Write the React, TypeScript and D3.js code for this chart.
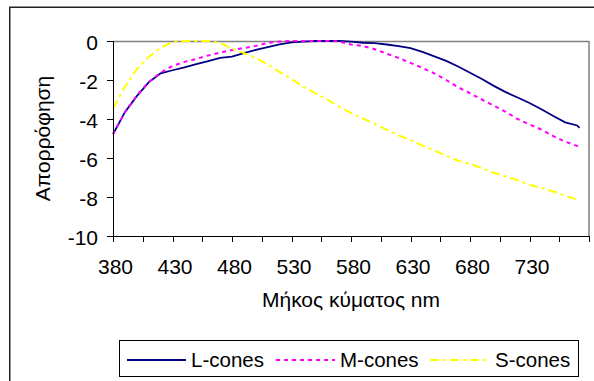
import React from "react";
import * as d3 from "d3";

const wavelengths = [380, 390, 400, 410, 420, 430, 440, 450, 460, 470, 480, 490, 500, 510, 520, 530, 540, 550, 560, 570, 580, 590, 600, 610, 620, 630, 640, 650, 660, 670, 680, 690, 700, 710, 720, 730, 740, 750, 760, 770, 772];

const lCones = [-4.78, -3.65, -2.83, -2.12, -1.66, -1.5, -1.35, -1.18, -1.03, -0.87, -0.8, -0.62, -0.45, -0.31, -0.17, -0.07, -0.03, 0, 0, 0, -0.03, -0.09, -0.11, -0.18, -0.26, -0.36, -0.56, -0.79, -1.02, -1.31, -1.63, -1.95, -2.3, -2.62, -2.9, -3.18, -3.5, -3.85, -4.17, -4.33, -4.45];

const mCones = [-4.78, -3.65, -2.8, -2.1, -1.62, -1.28, -1.07, -0.92, -0.74, -0.6, -0.46, -0.36, -0.25, -0.1, -0.03, 0, 0, 0, 0, -0.02, -0.18, -0.26, -0.42, -0.65, -0.87, -1.12, -1.38, -1.66, -2.0, -2.37, -2.68, -3.0, -3.32, -3.63, -4.0, -4.28, -4.54, -4.88, -5.16, -5.38, -5.43];

const sCones = [-3.45, -2.35, -1.45, -0.82, -0.35, -0.04, 0, 0, 0, -0.1, -0.4, -0.62, -0.88, -1.2, -1.6, -1.95, -2.35, -2.68, -3.0, -3.37, -3.69, -3.97, -4.25, -4.55, -4.84, -5.08, -5.36, -5.62, -5.87, -6.15, -6.3, -6.52, -6.76, -6.95, -7.14, -7.38, -7.53, -7.72, -7.94, -8.13, -8.17];

const yTicks = [0, -2, -4, -6, -8, -10];
const xTickMarks = d3.range(380, 781, 25);
const xTickLabels = [380, 430, 480, 530, 580, 630, 680, 730];

const seriesNames = ["L-cones", "M-cones", "S-cones"];
const seriesColors = ["#000080", "#FF00FF", "#FFFF00"];
const seriesDash = ["none", "4,4", "9,4,3,4"];
const seriesData = [lCones, mCones, sCones];

const yTitle = "Απορρόφηση";
const xTitle = "Μήκος κύματος nm";

export default function App() {
  const left = 113, right = 589, top = 41, bottom = 236;
  const x = d3.scaleLinear().domain([380, 780]).range([left, right]);
  const y = d3.scaleLinear().domain([-10, 0]).range([bottom, top]);
  const font = "'Liberation Sans', Arial, sans-serif";
  const fs = 21;
  const lfs = 20.5;

  const line = d3
    .line<number>()
    .x((_, i) => x(wavelengths[i]))
    .y((d) => y(d));

  const legendItems = [
    { x1: 127, x2: 186, tx: 191 },
    { x1: 276, x2: 335, tx: 340 },
    { x1: 430, x2: 490, tx: 495 },
  ];

  return (
    <svg
      width={594}
      height={381}
      style={{ position: "absolute", left: 0, top: 0, background: "#fff" }}
      fontFamily={font}
    >
      <rect x={0} y={0} width={594} height={381} fill="#fff" />
      <rect x={9.75} y={7.25} width={620} height={420} fill="none" stroke="#222" strokeWidth={1.5} />

      {/* plot area border */}
      <line x1={left} y1={top + 0.5} x2={right} y2={top + 0.5} stroke="#808080" strokeWidth={1.5} />
      <line x1={right} y1={top} x2={right} y2={bottom} stroke="#808080" strokeWidth={1.5} />

      {/* series */}
      {seriesData.map((d, i) => (
        <path
          key={seriesNames[i]}
          d={line(d) || ""}
          fill="none"
          stroke={seriesColors[i]}
          strokeWidth={i === 0 ? 1.8 : 2}
          strokeDasharray={seriesDash[i]}
        />
      ))}

      {/* axes */}
      <line x1={left + 0.5} y1={top} x2={left + 0.5} y2={bottom} stroke="#000" strokeWidth={1} />
      <line x1={left} y1={bottom + 0.5} x2={right} y2={bottom + 0.5} stroke="#000" strokeWidth={1} />
      {yTicks.map((t) => (
        <g key={"y" + t}>
          <line x1={left - 6} x2={left} y1={Math.round(y(t)) + 0.5} y2={Math.round(y(t)) + 0.5} stroke="#000" />
          <text x={98} y={y(t) + 9} textAnchor="end" fontSize={fs} fill="#000">
            {t}
          </text>
        </g>
      ))}
      {xTickMarks.map((t) => (
        <line key={"xt" + t} x1={Math.round(x(t)) + 0.5} x2={Math.round(x(t)) + 0.5} y1={bottom} y2={bottom + 6} stroke="#000" />
      ))}
      {xTickLabels.map((t) => (
        <text key={"xl" + t} x={x(t) + 2.5} y={274} textAnchor="middle" fontSize={fs} fill="#000">
          {t}
        </text>
      ))}

      <text x={(left + right) / 2} y={307} textAnchor="middle" fontSize={fs} fill="#000">
        {xTitle}
      </text>
      <text transform={`translate(50, ${(top + bottom) / 2}) rotate(-90)`} textAnchor="middle" fontSize={fs} fill="#000">
        {yTitle}
      </text>

      {/* legend */}
      <rect x={119.5} y={340.5} width={459} height={36} fill="#fff" stroke="#000" strokeWidth={1} />
      {legendItems.map((it, i) => (
        <g key={"lg" + i}>
          <line
            x1={it.x1}
            x2={it.x2}
            y1={360}
            y2={360}
            stroke={seriesColors[i]}
            strokeWidth={i === 0 ? 1.8 : 2}
            strokeDasharray={seriesDash[i]}
          />
          <text x={it.tx} y={366.5} fontSize={lfs} fill="#000">
            {seriesNames[i]}
          </text>
        </g>
      ))}
    </svg>
  );
}
